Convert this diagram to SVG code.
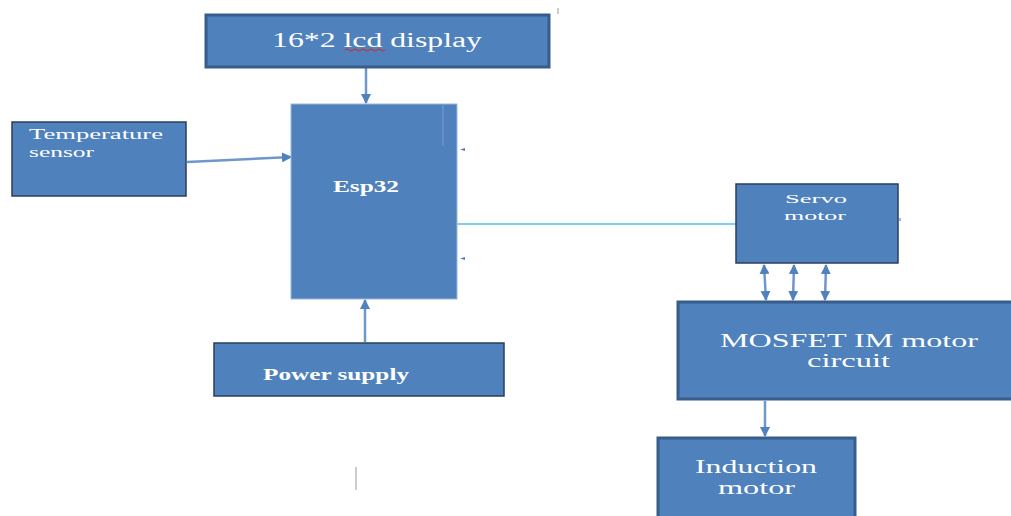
<svg xmlns="http://www.w3.org/2000/svg" width="1011" height="516" viewBox="0 0 1011 516">
<style>
.box{fill:#4f81bd;stroke:#385d8a;stroke-width:3}
.thin{fill:#4f81bd;stroke:#2b3f5a;stroke-width:1.5}
.plain{fill:#4f81bd;stroke:#9bb8dc;stroke-width:1}
.t{font-family:"Liberation Serif",serif;fill:#ffffff}
.b{font-weight:bold}
.c{stroke:#6f97c9;stroke-width:2.5;fill:none}
</style>
<defs>
<marker id="ah" viewBox="0 0 10 10" refX="9" refY="5" markerWidth="4" markerHeight="4" orient="auto-start-reverse">
<path d="M0,0 L10,5 L0,10 z" fill="#4f81bd"/>
</marker>
</defs>
<rect width="1011" height="516" fill="#ffffff"/>
<g id="connectors">
<line class="c" x1="366" y1="68" x2="366" y2="103" marker-end="url(#ah)"/>
<line class="c" x1="187" y1="162" x2="291" y2="157" stroke-width="1.5" marker-end="url(#ah)"/>
<line class="c" x1="365" y1="342" x2="365" y2="300" marker-end="url(#ah)"/>
<line x1="457" y1="224" x2="737" y2="224" stroke="#00a0e0" stroke-width="1.2"/>
<line class="c" x1="764" y1="265" x2="766" y2="300" marker-start="url(#ah)" marker-end="url(#ah)"/>
<line class="c" x1="794" y1="265" x2="793" y2="300" marker-start="url(#ah)" marker-end="url(#ah)"/>
<line class="c" x1="826" y1="265" x2="825" y2="300" marker-start="url(#ah)" marker-end="url(#ah)"/>
<line class="c" x1="765" y1="401" x2="765" y2="436" stroke-width="2" marker-end="url(#ah)"/>
<path d="M465,148 l-5,1.5 l5,1.5 z" fill="#4f81bd"/>
<path d="M465,257 l-5,1.5 l5,1.5 z" fill="#4f81bd"/>
<line x1="356" y1="467" x2="356" y2="490" stroke="#999" stroke-width="1"/>
<line x1="558" y1="8" x2="558" y2="14" stroke="#ccc" stroke-width="2"/>
<line x1="900" y1="218" x2="900" y2="221" stroke="#9bb8dc" stroke-width="2"/>
</g>
<g id="lcd">
<rect class="box" x="206" y="15" width="343" height="52"/>
<text class="t" x="272" y="47" font-size="20" textLength="210" lengthAdjust="spacingAndGlyphs">16*2 lcd display</text>
<path d="M345,50 q2,-2 4,0 q2,2 4,0 q2,-2 4,0 q2,2 4,0 q2,-2 4,0 q2,2 4,0 q2,-2 4,0 q2,2 4,0 q2,-2 4,0 q2,2 4,0" stroke="#e02020" stroke-width="1" fill="none"/>
</g>
<g id="temperature">
<rect class="thin" x="12" y="122" width="174" height="74"/>
<text class="t" x="29" y="139" font-size="15" textLength="134" lengthAdjust="spacingAndGlyphs">Temperature</text>
<text class="t" x="29" y="157" font-size="15" textLength="65" lengthAdjust="spacingAndGlyphs">sensor</text>
</g>
<g id="esp32">
<rect class="plain" x="291" y="104" width="166" height="195"/>
<line x1="443" y1="105" x2="443" y2="146" stroke="#6d95c8" stroke-width="1.5"/>
<text class="t b" x="333" y="192" font-size="16" textLength="66" lengthAdjust="spacingAndGlyphs">Esp32</text>
</g>
<g id="power">
<rect class="thin" x="214" y="343" width="290" height="53"/>
<text class="t b" x="263" y="380" font-size="16" textLength="146" lengthAdjust="spacingAndGlyphs">Power supply</text>
</g>
<g id="servo">
<rect class="thin" x="736" y="184" width="162" height="79"/>
<text class="t" x="785" y="203" font-size="13" textLength="62" lengthAdjust="spacingAndGlyphs">Servo</text>
<text class="t" x="784" y="220" font-size="13" textLength="62" lengthAdjust="spacingAndGlyphs">motor</text>
</g>
<g id="mosfet">
<rect class="box" x="678" y="302" width="340" height="97"/>
<text class="t" x="720" y="347" font-size="18" textLength="258" lengthAdjust="spacingAndGlyphs">MOSFET IM motor</text>
<text class="t" x="807" y="367" font-size="18" textLength="83" lengthAdjust="spacingAndGlyphs">circuit</text>
</g>
<g id="induction">
<rect class="box" x="658" y="438" width="197" height="90"/>
<text class="t" x="695" y="473" font-size="18" textLength="122" lengthAdjust="spacingAndGlyphs">Induction</text>
<text class="t" x="718" y="494" font-size="18" textLength="77" lengthAdjust="spacingAndGlyphs">motor</text>
</g>
</svg>
